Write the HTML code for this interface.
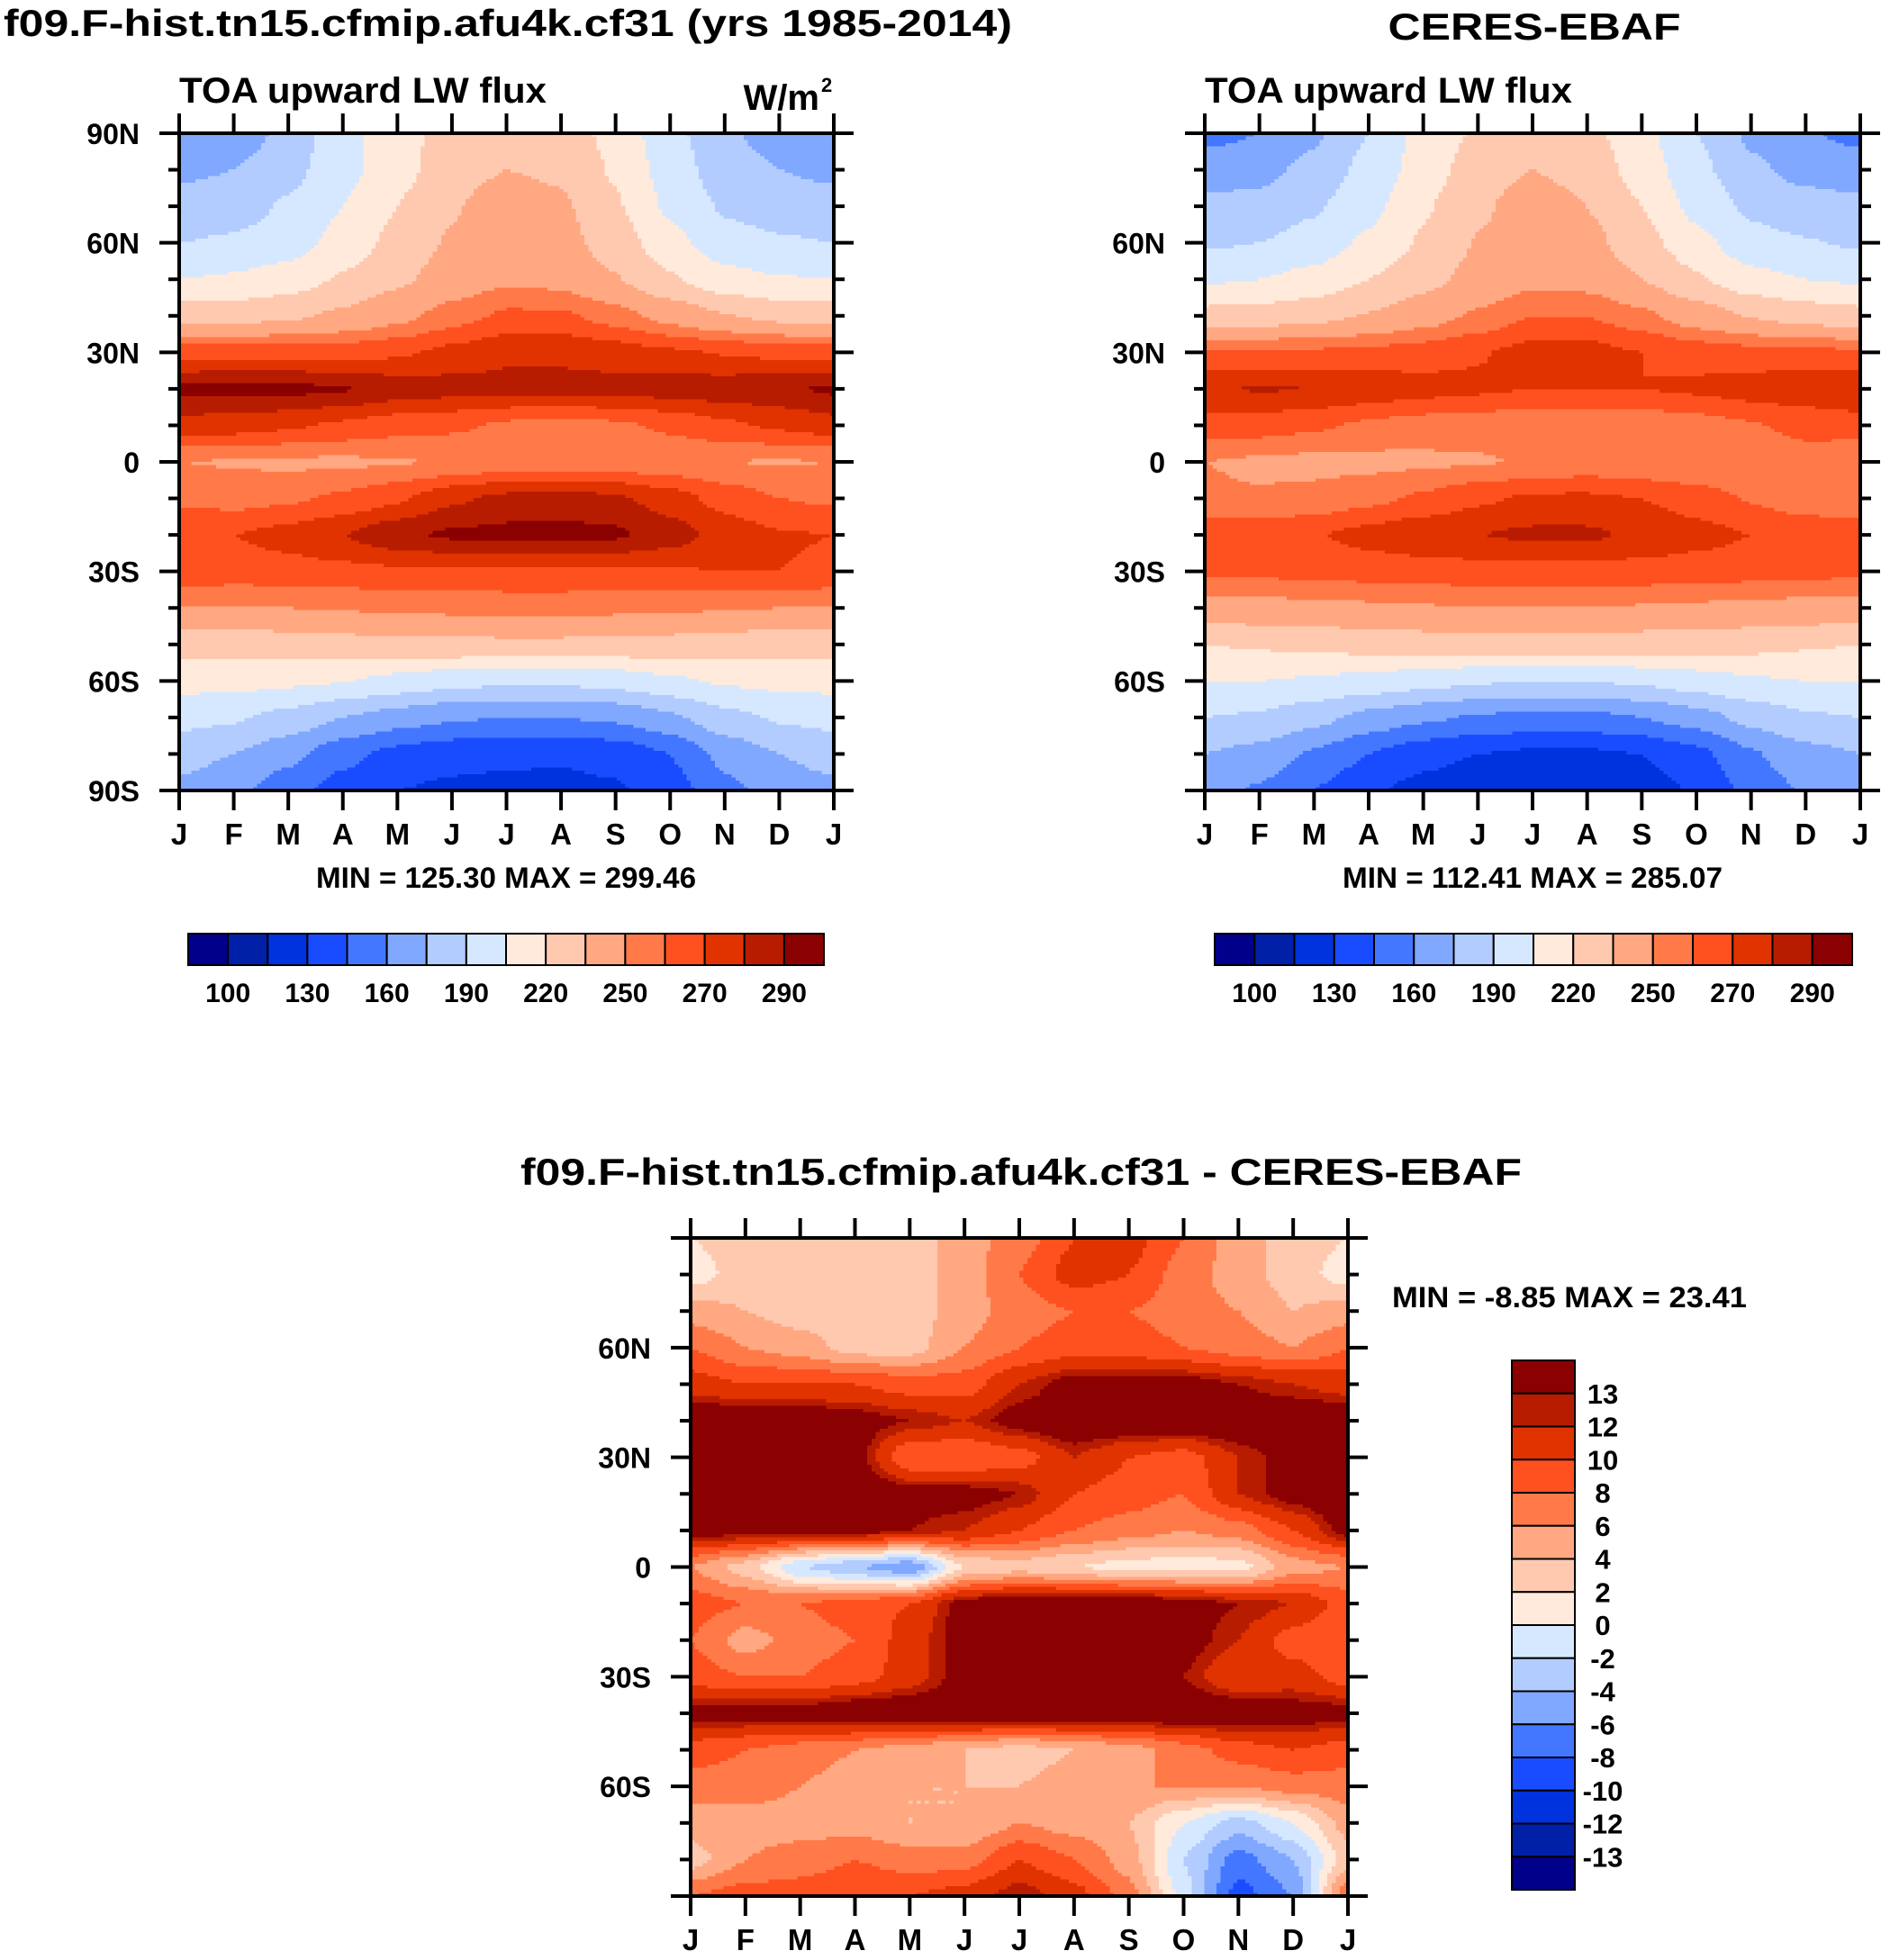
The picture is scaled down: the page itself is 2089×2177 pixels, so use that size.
<!DOCTYPE html>
<html><head><meta charset="utf-8">
<style>
html,body{margin:0;padding:0;background:#fff;}
svg{display:block;font-family:"Liberation Sans",Arial,sans-serif;font-weight:bold;}
</style></head>
<body>
<svg id="fig" width="2089" height="2177" viewBox="0 0 2089 2177" xmlns="http://www.w3.org/2000/svg">
<rect width="2089" height="2177" fill="#fff"/>
<text x="4" y="40" font-size="42" textLength="1120" lengthAdjust="spacingAndGlyphs">f09.F-hist.tn15.cfmip.afu4k.cf31 (yrs 1985-2014)</text>
<text x="1704" y="44" font-size="42" text-anchor="middle" textLength="325" lengthAdjust="spacingAndGlyphs">CERES-EBAF</text>
<text x="1134" y="1316" font-size="42" text-anchor="middle" textLength="1112" lengthAdjust="spacingAndGlyphs">f09.F-hist.tn15.cfmip.afu4k.cf31 - CERES-EBAF</text>
<g id="p1"></g>
<g id="p2"></g>
<g id="p3"></g>
</svg>
<script>
const months = ["J","F","M","A","M","J","J","A","S","O","N","D","J"];
const lats = [90,80,70,60,50,40,30,20,10,0,-10,-20,-30,-40,-50,-60,-70,-80,-90];
const absLevels = [100,115,130,145,160,175,190,205,220,235,250,260,270,280,290];
const absLabels = ["100","130","160","190","220","250","270","290"];
const diffLevels = [-13,-12,-10,-8,-6,-4,-2,0,2,4,6,8,10,12,13];
const diffLabels = ["13","12","10","8","6","4","2","0","-2","-4","-6","-8","-10","-12","-13"];
const colors = ["#00008b","#0020a8","#0033dd","#1a4cff","#4477ff","#80a8ff","#b3ccff","#d6e8ff","#ffeadb","#ffc9b0","#ffa882","#ff7a48","#ff5020","#e03300","#b81c00","#8b0000"];
const modelField = [
[160,165,180,200,215,225,230,228,215,195,178,168,160],
[172,175,185,200,215,228,235,232,218,198,182,175,172],
[180,183,192,205,220,233,245,238,222,202,188,182,180],
[190,192,198,210,225,237,243,240,228,210,196,192,190],
[205,207,212,222,232,242,248,246,236,222,210,206,205],
[228,229,232,238,246,255,262,262,255,245,236,230,228],
[266,266,266,266,268,273,278,278,275,272,269,267,266],
[292,293,293,291,286,284,283,283,284,285,286,288,292],
[276,275,272,268,264,262,258,256,258,262,268,272,276],
[250,249,248,248,249,251,253,254,253,252,250,249,250],
[258,256,258,262,268,278,283,285,282,275,266,260,258],
[270,270,274,280,288,292,293,293,292,285,276,271,270],
[268,265,266,267,268,268,268,268,268,269,270,270,268],
[250,250,250,251,252,253,254,254,253,252,251,250,250],
[225,226,228,230,231,232,232,232,231,230,228,226,225],
[210,210,208,206,200,195,193,193,196,202,207,209,210],
[195,192,185,175,168,162,160,160,163,172,185,192,195],
[180,175,165,150,140,135,133,132,135,145,165,175,180],
[172,165,150,138,130,127,126,126,128,138,155,168,172]];
const obsField = [
[155,160,172,190,210,222,228,225,210,190,172,162,155],
[168,170,180,195,212,228,235,230,213,195,178,170,168],
[178,180,188,200,218,232,243,235,220,200,187,181,178],
[188,190,196,208,222,236,242,240,226,210,195,191,188],
[203,205,210,220,230,240,247,245,235,222,210,205,203],
[225,226,230,236,244,252,260,260,253,243,234,228,225],
[262,262,262,263,265,269,274,274,270,266,264,263,262],
[278,281,280,277,274,272,270,270,270,272,275,277,278],
[266,265,262,258,255,254,252,252,253,255,259,263,266],
[250,248,247,247,248,249,251,253,251,250,251,256,250],
[252,251,253,257,262,268,272,272,270,265,259,254,252],
[266,267,269,274,278,280,282,282,278,274,270,267,266],
[262,262,263,264,265,266,266,266,266,265,264,263,262],
[245,246,247,248,249,250,250,250,249,248,247,246,245],
[220,222,224,226,228,228,229,229,228,227,225,222,220],
[205,205,203,200,196,192,190,190,193,198,203,205,205],
[190,188,180,170,163,158,156,156,160,168,180,188,190],
[175,170,158,145,135,130,127,127,130,140,158,170,175],
[165,158,145,132,125,120,117,118,122,132,150,162,165]];
const diffField = [
[2,3,3,3,3,5,7,10,11,8,5,3,2],
[1,3,3,3,3,5,8,11,10,7,5,3,1],
[5,4,3,3,3,5,7,8,8,7,6,4,5],
[8,6,5,3,3,6,8,9,9,8,7,6,8],
[11,10,10,10,9,9,12,14,14,14,13,12,11],
[15,15,15,14,13,12,14,15,15,15,15,15,15],
[15,15,15,14,8,8,9,12,10,9,12,14,15],
[15,15,15,15,14,14,13,10,9,8,12,14,15],
[14,14,14,14,13,12,10,8,7,6,7,10,14],
[6,3,-2,-4,-6,2,3,2,1,1,1,5,6],
[9,8,8,9,10,14,15,15,15,14,13,12,9],
[8,5,7,8,11,14,15,15,15,14,12,9,8],
[9,8,8,9,11,14,15,15,15,13,10,11,9],
[14,14,14,15,15,15,15,15,15,15,15,14,14],
[9,8,7,6,5,4,3,4,5,7,9,10,9],
[7,7,6,5,4,4,4,5,6,6,6,7,7],
[5,5,5,5,4,4,6,5,4,0,-3,0,5],
[3,6,7,8,7,7,10,8,5,-2,-7,-4,3],
[8,9,9,10,10,11,13,11,7,-1,-9,-6,8]];

const NS = "http://www.w3.org/2000/svg";
function mk(parent, tag, attrs, txt){
  const e = document.createElementNS(NS, tag);
  for (const k in attrs) e.setAttribute(k, attrs[k]);
  if (txt !== undefined) e.textContent = txt;
  parent.appendChild(e);
  return e;
}
function levelIndex(v, levels){ let i=0; while(i<levels.length && v>=levels[i]) i++; return i; }
function sm(f){ return f*f*(3-2*f)*0.5 + f*0.5; }
function sample(field, t, latv){
  const c = Math.min(11.9999, Math.max(0,t));
  const r = Math.min(17.9999, Math.max(0,(90-latv)/10));
  const c0=Math.floor(c), r0=Math.floor(r), fc=sm(c-c0), fr=sm(r-r0);
  const a=field[r0][c0], b=field[r0][c0+1], d=field[r0+1][c0], e=field[r0+1][c0+1];
  return a*(1-fc)*(1-fr)+b*fc*(1-fr)+d*(1-fc)*fr+e*fc*fr;
}
function drawPanel(g, field, levels, box, opts){
  const {x0,y0,x1,y1} = box;
  const xs = t => x0 + (x1-x0)*t/12;
  const ys = la => y0 + (y1-y0)*(90-la)/180;
  const NC=160, NR=200;
  const cw=(x1-x0)/NC, rh=(y1-y0)/NR;
  const cells = mk(g,"g",{"shape-rendering":"crispEdges"});
  
  
  for (let r=0;r<NR;r++){
    const la = 90 - (r+0.5)*180/NR;
    let start=0, cur=-1;
    for (let c=0;c<=NC;c++){
      let li=-1;
      if (c<NC){ const t=(c+0.5)*12/NC; li=levelIndex(sample(field,t,la),levels); }
      if (li!==cur){
        if (cur>=0){
          const rc = mk(cells,"rect",{x:(xs(start*12/NC)).toFixed(2),y:(ys(90-r*180/NR)).toFixed(2),width:(cw*(c-start)+0.6).toFixed(2),height:(rh+0.6).toFixed(2),fill:colors[cur]});
          
          
        }
        start=c; cur=li;
      }
    }
  }
  const fr = mk(g,"rect",{x:x0,y:y0,width:x1-x0,height:y1-y0,fill:"none",stroke:"#000","stroke-width":4});
  
  
  const ax = mk(g,"g",{stroke:"#000","stroke-width":4});
  
  
  for (let m=0;m<13;m++){
    const x=xs(m);
    mk(ax,"line",{x1:x,y1:y1,x2:x,y2:y1+22});
    mk(ax,"line",{x1:x,y1:y0,x2:x,y2:y0-22});
    const tl = mk(g,"text",{x:x,y:y1+60,"font-size":33,"text-anchor":"middle"},months[m]);
    
    
  }
  for (let la=-90; la<=90; la+=10){
    const y=ys(la), major = la%30===0, len = major?22:12;
    mk(ax,"line",{x1:x0,y1:y,x2:x0-len,y2:y});
    mk(ax,"line",{x1:x1,y1:y,x2:x1+len,y2:y});
    if (major && (opts.poles || Math.abs(la)<90)){
      const lab = la===0?"0":(Math.abs(la)+(la>0?"N":"S"));
      const tl = mk(g,"text",{x:x0-44,y:y+12,"font-size":32,"text-anchor":"end"},lab);
      
      
    }
  }
}
function hbar(g, x0, x1, y0, y1, labels){
  const n=colors.length, w=(x1-x0)/n;
  for (let i=0;i<n;i++){
    const r = mk(g,"rect",{x:x0+i*w,y:y0,width:w,height:y1-y0,fill:colors[i],stroke:"#000","stroke-width":2});
    
    
  }
  for (let k=0;k<labels.length;k++){
    const t = mk(g,"text",{x:x0+(2*k+1)*w,y:y1+41,"font-size":30,"text-anchor":"middle"},labels[k]);
    
    
  }
}
const p1=document.getElementById('p1'), p2=document.getElementById('p2'), p3=document.getElementById('p3');
drawPanel(p1, modelField, absLevels, {x0:199,y0:148,x1:926,y1:878},{poles:true});
drawPanel(p2, obsField, absLevels, {x0:1338,y0:148,x1:2066,y1:878},{poles:false});
drawPanel(p3, diffField, diffLevels, {x0:767,y0:1375,x1:1497,y1:2106},{poles:false});
hbar(p1,209,915,1037,1072,absLabels);
hbar(p2,1349,2057,1037,1072,absLabels);
let t;
t=mk(p1,"text",{x:199,y:114,"font-size":40,"textLength":408,"lengthAdjust":"spacingAndGlyphs"},"TOA upward LW flux");
 
t=mk(p1,"text",{x:910,y:122,"font-size":40,"text-anchor":"end"},"W/m");
 
t=mk(p1,"text",{x:912,y:102,"font-size":22},"2");
 
t=mk(p2,"text",{x:1338,y:114,"font-size":40,"textLength":408,"lengthAdjust":"spacingAndGlyphs"},"TOA upward LW flux");
 
t=mk(p1,"text",{x:562,y:986,"font-size":32,"text-anchor":"middle","textLength":422,"lengthAdjust":"spacingAndGlyphs"},"MIN = 125.30 MAX = 299.46");
 
t=mk(p2,"text",{x:1702,y:986,"font-size":32,"text-anchor":"middle","textLength":422,"lengthAdjust":"spacingAndGlyphs"},"MIN = 112.41 MAX = 285.07");
 
t=mk(p3,"text",{x:1546,y:1452,"font-size":32,"textLength":394,"lengthAdjust":"spacingAndGlyphs"},"MIN =  -8.85 MAX =  23.41");
 
(function(){
  const x0=1679,x1=1749,y0=1511,y1=2099,n=colors.length,h=(y1-y0)/n;
  for (let i=0;i<n;i++){
    const r=mk(p3,"rect",{x:x0,y:y0+i*h,width:x1-x0,height:h,fill:colors[n-1-i],stroke:"#000","stroke-width":2});
    
    
  }
  for (let k=0;k<diffLabels.length;k++){
    const tt=mk(p3,"text",{x:1780,y:y0+(k+1)*h+11,"font-size":31,"text-anchor":"middle"},diffLabels[k]);
    
    
  }
})();
</script>
</body></html>
